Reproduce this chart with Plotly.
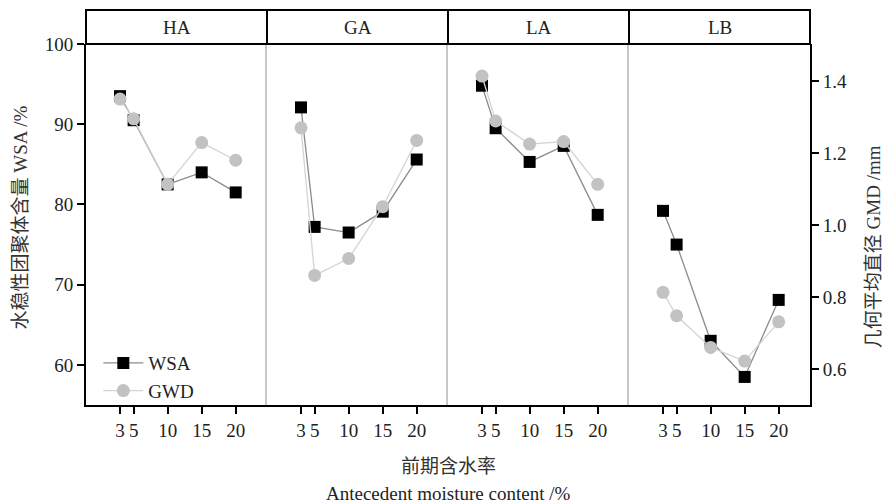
import plotly.graph_objects as go

# moisture levels (%) and soil groups
moisture = [3, 5, 10, 15, 20]
soils = ["HA", "GA", "LA", "LB"]

# water-stable aggregates WSA (%)
wsa_ha = [93.5, 90.5, 82.5, 84.0, 81.5]
wsa_ga = [92.1, 77.2, 76.5, 79.1, 85.6]
wsa_la = [94.8, 89.5, 85.3, 87.3, 78.7]
wsa_lb = [79.2, 75.0, 63.0, 58.5, 68.1]

# geometric mean diameter GMD (mm)
gmd_ha = [1.35, 1.295, 1.113, 1.229, 1.18]
gmd_ga = [1.27, 0.86, 0.907, 1.051, 1.235]
gmd_la = [1.414, 1.289, 1.225, 1.232, 1.113]
gmd_lb = [0.813, 0.748, 0.66, 0.622, 0.731]

wsa_all = [wsa_ha, wsa_ga, wsa_la, wsa_lb]
gmd_all = [gmd_ha, gmd_ga, gmd_la, gmd_lb]

FONT = "Liberation Serif, Noto Sans CJK SC, serif"
TXT = "#222222"

fig = go.Figure()

for i in range(4):
    xa = "x" if i == 0 else f"x{i + 1}"
    ya = "y" if i == 0 else f"y{i + 1}"
    yg = f"y{i + 5}"
    fig.add_trace(go.Scatter(
        x=moisture, y=wsa_all[i], xaxis=xa, yaxis=ya,
        mode="lines+markers", name="WSA", showlegend=(i == 0),
        line=dict(color="#8c8c8c", width=1.3),
        marker=dict(symbol="square", size=12, color="black"),
    ))
    fig.add_trace(go.Scatter(
        x=moisture, y=gmd_all[i], xaxis=xa, yaxis=yg,
        mode="lines+markers", name="GWD", showlegend=(i == 0),
        line=dict(color="#d4d4d4", width=1.3),
        marker=dict(symbol="circle", size=13, color="#c2c2c2"),
    ))

# page body adds ~8px offset, so the figure is a bit smaller than the window
w = 1 / 4
layout = dict(
    width=884, height=495,
    margin=dict(l=78, r=82, t=36, b=98, autoexpand=False),
    paper_bgcolor="white", plot_bgcolor="white",
    font=dict(family=FONT, size=19, color=TXT),
    legend=dict(x=0.017, y=-0.014, xanchor="left", yanchor="bottom",
                bgcolor="rgba(0,0,0,0)", font=dict(size=19),
                itemwidth=40, tracegroupgap=0),
)

shapes = []
annotations = []
for i in range(4):
    key = "xaxis" if i == 0 else f"xaxis{i + 1}"
    ya = "y" if i == 0 else f"y{i + 1}"
    layout[key] = dict(
        domain=[i * w, (i + 1) * w], anchor=ya, automargin=False,
        range=[-2, 24.6], tickvals=moisture,
        ticktext=["3", "5", "10", "15", "20"],
        showline=True, linecolor="black", linewidth=2,
        ticks="outside", ticklen=7, tickwidth=2, tickcolor="black",
        showgrid=False, zeroline=False,
        tickfont=dict(size=19, color=TXT),
    )
    ykey = "yaxis" if i == 0 else f"yaxis{i + 1}"
    xa = "x" if i == 0 else f"x{i + 1}"
    if i == 0:
        layout[ykey] = dict(
            domain=[0, 1], anchor="x", range=[55, 100], automargin=False,
            tickvals=[60, 70, 80, 90, 100],
            showline=True, linecolor="black", linewidth=2,
            ticks="outside", ticklen=7, tickwidth=2, tickcolor="black",
            showgrid=False, zeroline=False,
        )
    else:
        layout[ykey] = dict(
            domain=[0, 1], anchor=xa, range=[55, 100], matches="y",
            automargin=False,
            showline=True, linecolor="#c8c8c8", linewidth=1.5,
            showticklabels=False, ticks="", showgrid=False, zeroline=False,
        )
    gkey = f"yaxis{i + 5}"
    oy = "y" if i == 0 else f"y{i + 1}"
    if i == 3:
        layout[gkey] = dict(
            overlaying=oy, anchor=xa, side="right", range=[0.5, 1.503],
            automargin=False,
            tickvals=[0.6, 0.8, 1.0, 1.2, 1.4], tickformat=".1f",
            showline=True, linecolor="black", linewidth=2,
            ticks="outside", ticklen=7, tickwidth=2, tickcolor="black",
            showgrid=False, zeroline=False,
        )
    else:
        layout[gkey] = dict(
            overlaying=oy, anchor=xa, side="right", range=[0.5, 1.503],
            visible=False,
        )

    # strip header
    shapes.append(dict(type="rect", xref="paper", yref="paper",
                       x0=i * w, x1=(i + 1) * w, y0=1, y1=1.094,
                       line=dict(color="black", width=2),
                       fillcolor="white", layer="above"))
    annotations.append(dict(text=soils[i], xref="paper", yref="paper",
                            x=(i + 0.5) * w, y=1.047, showarrow=False,
                            xanchor="center", yanchor="middle",
                            font=dict(size=19, color=TXT)))

# axis titles
annotations.append(dict(text="水稳性团聚体含量 WSA /%", xref="paper", yref="paper",
                        x=-0.091, y=0.52, textangle=-90, showarrow=False,
                        xanchor="center", yanchor="middle",
                        font=dict(size=19, color="#333333")))
annotations.append(dict(text="几何平均直径 GMD /mm", xref="paper", yref="paper",
                        x=1.087, y=0.44, textangle=-90, showarrow=False,
                        xanchor="center", yanchor="middle",
                        font=dict(size=19, color="#333333")))
annotations.append(dict(text="前期含水率", xref="paper", yref="paper",
                        x=0.5, y=-0.169, showarrow=False,
                        xanchor="center", yanchor="middle",
                        font=dict(size=19, color="#333333")))
annotations.append(dict(text="Antecedent moisture content /%", xref="paper",
                        yref="paper", x=0.5, y=-0.244, showarrow=False,
                        xanchor="center", yanchor="middle",
                        font=dict(size=19, color=TXT)))

layout["shapes"] = shapes
layout["annotations"] = annotations
fig.update_layout(**layout)

fig.write_html("out.html")
